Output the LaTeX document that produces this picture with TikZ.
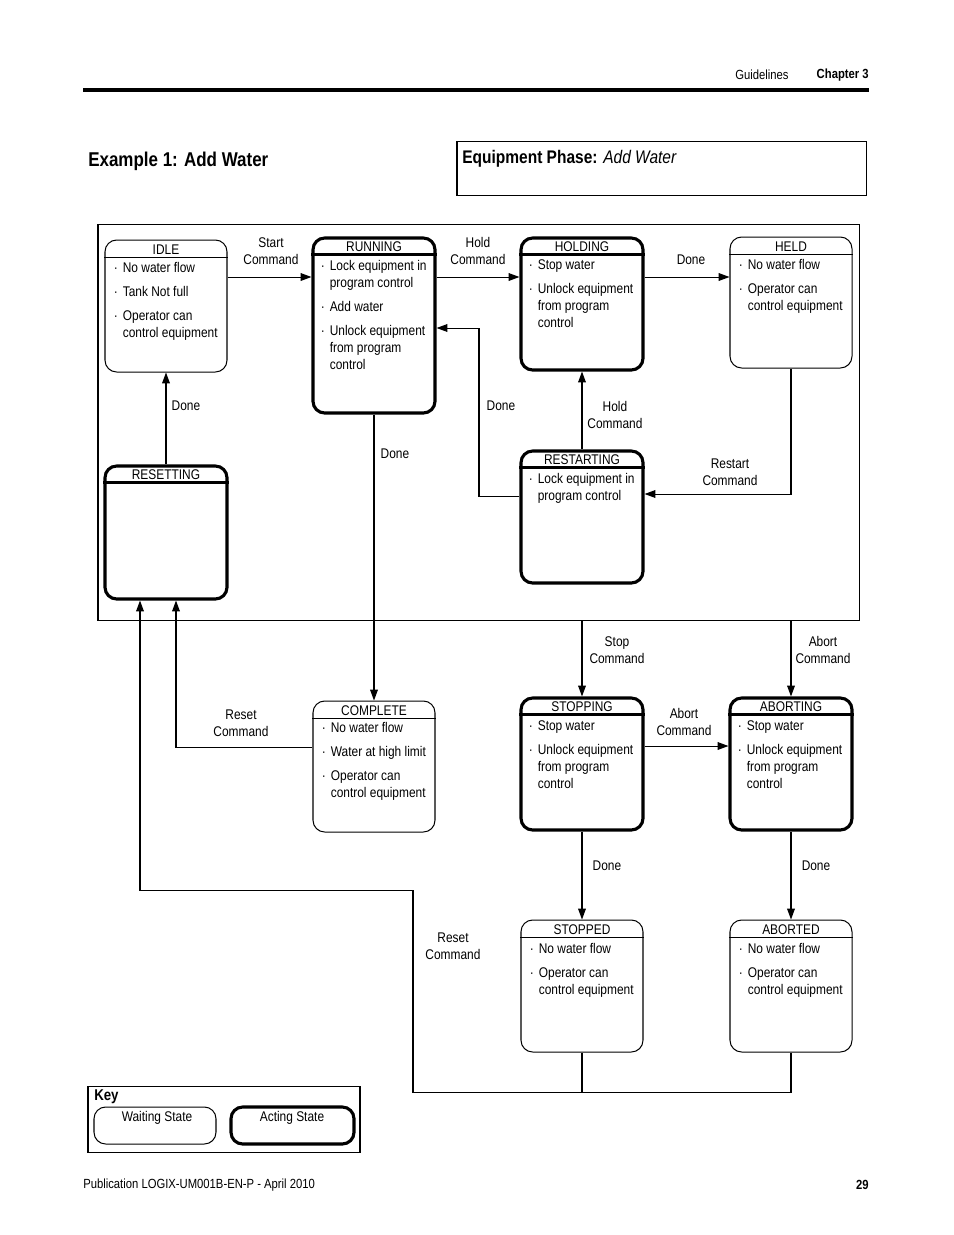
\documentclass[tikz,border=0pt]{standalone}
\usepackage{fontspec}
\setmainfont{Liberation Sans}[FakeStretch=0.85]
\usetikzlibrary{arrows.meta,fit,calc}

\newcommand\bodyfont{\fontsize{9}{10.9}\selectfont}
\newcommand\bul{\makebox[5.8pt][l]{·}}
\newcommand\cont{\hspace*{5.8pt}}

\begin{document}
\begin{tikzpicture}[x=0.6415pt,y=-0.6415pt,
    font=\bodyfont,
    waiting/.style={draw, line width=0.65pt, rounded corners=7.5pt, inner sep=0pt},
    acting/.style={waiting, line width=2pt},
    frame/.style={draw, line width=0.65pt, inner sep=0pt},
    flow/.style={-{Triangle[length=7pt,width=5pt]}, line width=0.65pt},
    lbl/.style={align=center, inner sep=0pt},
    items/.style={anchor=north west, align=left, inner sep=0pt}]
  \useasboundingbox (0,0) rectangle (954,1235);

  % page header and footer
  \draw[line width=2pt] (83,90) -- (869,90);
  \node[inner sep=0pt, font=\fontsize{8.5}{10}\selectfont] (guide) at (762,75) {Guidelines};
  \node[inner sep=0pt, anchor=east, font=\fontsize{8.5}{10}\selectfont\bfseries] (chap) at (869,75) {Chapter 3};
  \node[inner sep=0pt, anchor=west, font=\fontsize{8.5}{10}\selectfont] (publ) at (83,1185) {Publication LOGIX-UM001B-EN-P - April 2010};
  \node[inner sep=0pt, anchor=east, font=\fontsize{8.5}{10}\selectfont\bfseries] (page) at (869,1185) {29};

  % titles
  \node[inner sep=0pt, anchor=west, font=\fontsize{12.8}{14}\selectfont\bfseries] (title) at (88,161) {Example 1: Add Water};
  \node[frame, fit={(457,141) (866,195)}] (phase) {};
  \node[inner sep=0pt, anchor=west, font=\fontsize{11.7}{14}\selectfont] (phase-t) at (462,159) {\textbf{Equipment Phase:} \textit{Add Water}};

  % outer frame
  \node[frame, fit={(98,224) (859,620)}] (proc) {};

  % states
  \foreach \n/\t/\x/\y/\h/\s in {idle/IDLE/105/240/132/waiting, running/RUNNING/313/238/175/acting,
      holding/HOLDING/521/238/132/acting, held/HELD/730/237/131/waiting,
      resetting/RESETTING/105/466/133/acting, restarting/RESTARTING/521/451/132/acting,
      complete/COMPLETE/313/701/131/waiting, stopping/STOPPING/521/698/132/acting,
      aborting/ABORTING/730/698/132/acting, stopped/STOPPED/521/920/132/waiting,
      aborted/ABORTED/730/920/132/waiting}{
    \node[\s, fit={(\x,\y) (\x+122,\y+\h)}] (\n) {};
    \draw[\s, rounded corners=0pt] ($(\n.north west)+(0,18)$) -- ($(\n.north east)+(0,18)$);
    \node[inner sep=0pt] (\n-t) at ($(\n.north)+(0,10)$) {\t};
  }

  % state texts
  \node[items] (idle-i) at ($(idle.north west)+(9,23)$) {\bul No water flow\\[4.5pt]\bul Tank Not full\\[4.5pt]\bul Operator can\\\cont control equipment};
  \node[items] (running-i) at ($(running.north west)+(9,24)$) {\bul Lock equipment in\\\cont program control\\[4.5pt]\bul Add water\\[4.5pt]\bul Unlock equipment\\\cont from program\\\cont control};
  \node[items] (holding-i) at ($(holding.north west)+(9,23)$) {\bul Stop water\\[4.5pt]\bul Unlock equipment\\\cont from program\\\cont control};
  \node[items] (held-i) at ($(held.north west)+(9,23)$) {\bul No water flow\\[4.5pt]\bul Operator can\\\cont control equipment};
  \node[items] (restarting-i) at ($(restarting.north west)+(9,24)$) {\bul Lock equipment in\\\cont program control};
  \node[items] (complete-i) at ($(complete.north west)+(9,22)$) {\bul No water flow\\[4.5pt]\bul Water at high limit\\[4.5pt]\bul Operator can\\\cont control equipment};
  \node[items] (stopping-i) at ($(stopping.north west)+(9,24)$) {\bul Stop water\\[4.5pt]\bul Unlock equipment\\\cont from program\\\cont control};
  \node[items] (aborting-i) at ($(aborting.north west)+(9,24)$) {\bul Stop water\\[4.5pt]\bul Unlock equipment\\\cont from program\\\cont control};
  \node[items] (stopped-i) at ($(stopped.north west)+(9,24)$) {\bul No water flow\\[4.5pt]\bul Operator can\\\cont control equipment};
  \node[items] (aborted-i) at ($(aborted.north west)+(9,24)$) {\bul No water flow\\[4.5pt]\bul Operator can\\\cont control equipment};

  % connector levels
  \coordinate (r1) at (0,277);
  \coordinate (r2) at (0,494);
  \coordinate (r3) at (0,496);
  \coordinate (r4) at (479,328);
  \coordinate (r5) at (0,746);
  \coordinate (r6) at (176,747);
  \coordinate (r7) at (413,1092);
  \coordinate (r8) at (140,890);

  % connectors
  \draw[flow] (idle.east |- r1) -- (running.west |- r1);
  \draw[flow] (running.east |- r1) -- (holding.west |- r1);
  \draw[flow] (holding.east |- r1) -- (held.west |- r1);
  \draw[flow] (held.south) |- (restarting.east |- r2);
  \draw[flow] (restarting.north) -- (holding.south);
  \draw[flow] (restarting.west |- r3) -| (r4) -- (running.east |- r4);
  \draw[flow] (resetting.north) -- (idle.south);
  \draw[flow] (running.south) -- (complete.north);
  \draw[flow] (proc.south -| stopping.north) -- (stopping.north);
  \draw[flow] (proc.south -| aborting.north) -- (aborting.north);
  \draw[flow] (stopping.east |- r5) -- (aborting.west |- r5);
  \draw[flow] (stopping.south) -- (stopped.north);
  \draw[flow] (aborting.south) -- (aborted.north);
  \draw[flow] (complete.west |- r6) -| (resetting.south -| r6);
  \draw[line width=0.65pt] (stopped.south) -- (stopped.south |- r7);
  \draw[flow] (aborted.south) |- (r7) |- (r8) -- (resetting.south -| r8);

  % connector labels
  \node[lbl] (l-start) at (271,251) {Start\\Command};
  \node[lbl] (l-hold) at (478,251) {Hold\\Command};
  \node[lbl] (l-held) at (691,260) {Done};
  \node[lbl] (l-restart) at (730,472) {Restart\\Command};
  \node[lbl] (l-rehold) at (615,415) {Hold\\Command};
  \node[lbl] (l-redone) at (501,406) {Done};
  \node[lbl] (l-reset) at (186,406) {Done};
  \node[lbl] (l-complete) at (395,454) {Done};
  \node[lbl] (l-stop) at (617,650) {Stop\\Command};
  \node[lbl] (l-abort) at (823,650) {Abort\\Command};
  \node[lbl] (l-abort2) at (684,722) {Abort\\Command};
  \node[lbl] (l-stopped) at (607,866) {Done};
  \node[lbl] (l-aborted) at (816,866) {Done};
  \node[lbl] (l-reset1) at (241,723) {Reset\\Command};
  \node[lbl] (l-reset2) at (453,946) {Reset\\Command};

  % key
  \node[frame, fit={(88,1086) (360,1152)}] (key) {};
  \node[inner sep=0pt, anchor=west, font=\fontsize{10}{12}\selectfont\bfseries] (key-t) at (94,1097) {Key};
  \node[waiting, fit={(94,1107) (216,1144)}] (key-w) {};
  \node[acting, fit={(231,1107) (354,1144)}] (key-a) {};
  \node[inner sep=0pt] (key-wt) at (157,1118) {Waiting State};
  \node[inner sep=0pt] (key-at) at (292,1118) {Acting State};
\end{tikzpicture}
\end{document}
